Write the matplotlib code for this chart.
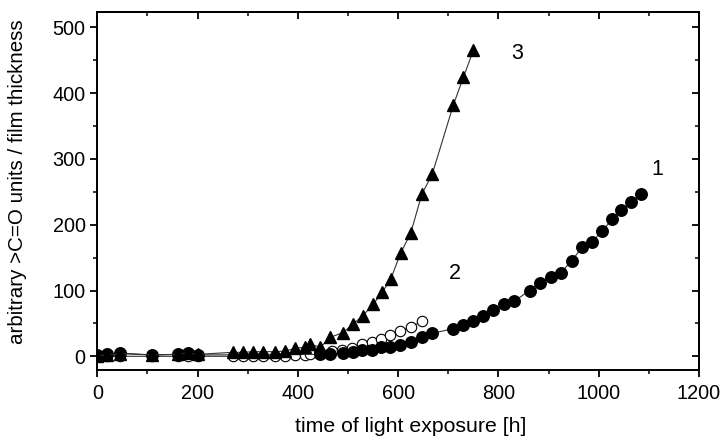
import matplotlib.pyplot as plt
from matplotlib.ticker import MultipleLocator

plt.rcParams['font.family'] = ['Liberation Sans', 'DejaVu Sans']

# curve 1: filled circles
x1 = [0, 20, 45, 110, 160, 180, 200, 445, 465, 490, 510, 528, 548, 565, 583, 604, 626, 647, 668,
      710, 730, 750, 770, 790, 812, 832, 862, 882, 904, 924, 946, 967, 987, 1007, 1027, 1045, 1065, 1085]
y1 = [2, 3, 5, 2, 3, 5, 2, 3, 4, 5, 6, 9, 10, 14, 14, 17, 22, 29, 35,
      42, 47, 54, 61, 70, 79, 84, 100, 112, 121, 127, 145, 166, 174, 191, 208, 222, 235, 247]

# curve 2: open circles
x2 = [0, 20, 45, 110, 160, 180, 200, 270, 290, 310, 330, 355, 375, 395, 415, 425, 445,
      468, 488, 508, 528, 548, 565, 584, 604, 626, 647]
y2 = [0, 0, 0, 0, 0, 0, 0, 0, 0, 0, 0, 1, 1, 2, 2, 3, 5,
      8, 9, 13, 19, 22, 26, 32, 38, 45, 53]

# curve 3: filled triangles
x3 = [0, 20, 45, 110, 160, 180, 200, 270, 290, 310, 330, 355, 375, 395, 415, 425, 445,
      465, 490, 510, 530, 550, 568, 585, 605, 625, 647, 668, 710, 730, 750]
y3 = [1, 2, 4, 2, 3, 5, 3, 6, 6, 7, 7, 7, 8, 12, 14, 18, 14,
      29, 36, 49, 62, 79, 97, 117, 157, 187, 246, 277, 382, 424, 465]

labels = ['1', '2', '3']
label_x = [1117, 714, 837]
label_y = [284, 126, 461]

fig = plt.figure(figsize=(7.24, 4.38), dpi=100)
ax = fig.add_axes([0.1344, 0.155, 0.8311, 0.817])

line_kw = dict(color='#333333', lw=0.8)
ax.plot(x2, y2, marker='o', ms=7.5, mfc='white', mec='black', mew=0.8, **line_kw)
ax.plot(x1, y1, marker='o', ms=8.3, mfc='black', mec='black', **line_kw)
ax.plot(x3, y3, marker='^', ms=8.5, mfc='black', mec='black', **line_kw)

for t, tx, ty in zip(labels, label_x, label_y):
    ax.text(tx, ty, t, fontsize=15.5, ha='center', va='center')

ax.set_xlim(0, 1200)
ax.set_ylim(-21, 523)
ax.xaxis.set_major_locator(MultipleLocator(200))
ax.xaxis.set_minor_locator(MultipleLocator(100))
ax.yaxis.set_major_locator(MultipleLocator(100))
ax.yaxis.set_minor_locator(MultipleLocator(50))

ax.tick_params(which='major', direction='out', length=5, width=1.3, labelsize=14.3)
ax.tick_params(axis='x', which='major', pad=5)
ax.tick_params(which='minor', direction='out', length=3, width=1.1)
for s in ax.spines.values():
    s.set_linewidth(1.4)

# mirrored ticks on top and right pointing inward
top = ax.secondary_xaxis('top')
top.xaxis.set_major_locator(MultipleLocator(200))
top.xaxis.set_minor_locator(MultipleLocator(100))
top.tick_params(which='major', direction='in', length=5, width=1.3, labeltop=False)
top.tick_params(which='minor', direction='in', length=3, width=1.1)
right = ax.secondary_yaxis('right')
right.yaxis.set_major_locator(MultipleLocator(100))
right.yaxis.set_minor_locator(MultipleLocator(50))
right.tick_params(which='major', direction='in', length=5, width=1.3, labelright=False)
right.tick_params(which='minor', direction='in', length=3, width=1.1)
top.spines['top'].set_linewidth(1.4)
right.spines['right'].set_linewidth(1.4)

ax.set_xlabel('time of light exposure [h]', fontsize=15.3, va='center')
ax.xaxis.set_label_coords(0.521, -0.157)
ax.set_ylabel('arbitrary >C=O units / film thickness', fontsize=14.8, va='center')
ax.yaxis.set_label_coords(-0.132, 0.526)

fig.savefig('out.png', dpi=100)
